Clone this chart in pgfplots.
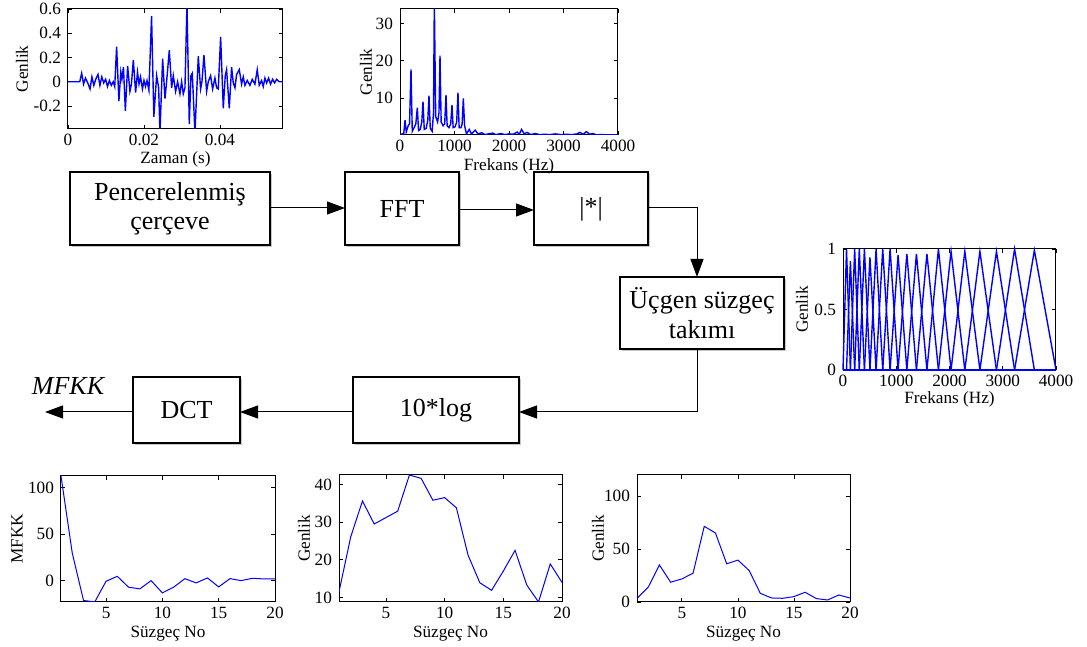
\documentclass[border=0pt]{standalone}
\usepackage{fontspec}
\setmainfont{Liberation Serif}
\usepackage{pgfplots}
\pgfplotsset{compat=1.18}
\usetikzlibrary{arrows.meta}
\definecolor{mblue}{RGB}{0,0,255}
\newcommand{\smallf}{\fontsize{8.6}{9}\selectfont}
\newcommand{\bxf}{\fontsize{13}{14.5}\selectfont}
\pgfplotsset{
  mat/.style={
    scale only axis, anchor=south west,
    axis line style={line width=0.5pt},
    tick align=inside, major tick length=2pt,
    tick style={black, line width=0.4pt},
    /pgf/number format/assume math mode=true,
    /pgf/number format/1000 sep={},
    scaled ticks=false,
    tick label style={font=\smallf},
    xticklabel style={yshift=1pt},
    label style={font=\smallf},
    xlabel style={anchor=center},
    ylabel style={anchor=center},
  },
  blu/.style={mblue, line width=0.7pt, mark=none},
  blut/.style={mblue, line width=0.5pt, mark=none},
}
\newcommand{\bx}[4]{\fill[gray!45] (#1+2,#2+2) rectangle (#3+2,#4+2); \draw[fill=white,line width=0.65pt] (#1,#2) rectangle (#3,#4);}
\begin{document}
\begin{tikzpicture}
\useasboundingbox (0,0) rectangle (543.5pt,323.5pt);
% ---------------- flow chart ----------------
\begin{scope}[x=0.5pt,y=-0.5pt,yshift=323.5pt]
\tikzset{arr/.style={-{Triangle[length=9pt,width=6.5pt]}, line width=0.5pt}}
\bx{70}{172}{270}{245}
\bx{345}{172}{459}{245}
\bx{534}{172}{648}{245}
\bx{620}{277}{784}{349}
\bx{353}{377}{519}{443}
\bx{133}{377}{240}{443}
\node[align=center,font=\bxf] at (170,209) {Pencerelenmiş\\çerçeve};
\node[font=\bxf] at (402,209) {FFT};
\node[font=\bxf] at (591,209) {|*|};
\node[align=center,font=\fontsize{13}{15}\selectfont] at (702,313) {Üçgen süzgeç\\takımı};
\node[font=\bxf] at (436,410) {10*log};
\node[font=\bxf] at (186.5,410) {DCT};
\node[font=\bxf\itshape] at (68,386) {MFKK};
\draw[arr] (270,208) -- (345,208);
\draw[arr] (459,210) -- (534,210);
\draw[arr] (648,208) -| (697,277);
\draw[arr] (697,349) |- (519,412);
\draw[arr] (353,412) -- (240,412);
\draw[arr] (133,412) -- (45,412);
\end{scope}
% ---------------- time signal ----------------
\begin{axis}[mat, at={(34pt,259pt)}, width=107.5pt, height=60pt,
  xmin=0, xmax=0.0566, ymin=-0.39, ymax=0.6,
  xtick={0,0.02,0.04}, ytick={-0.2,0,0.2,0.4,0.6},
  xlabel={Zaman (s)}, ylabel={Genlik},
  xlabel style={at={(axis description cs:0.5,-0.255)}},
  ylabel style={at={(axis description cs:-0.214,0.5)}},
  ticklabel style={/pgf/number format/fixed}]
\addplot[blu] coordinates {
(0,0) (0.0031,0) (0.0036,0.07) (0.0041,-0.02) (0.0046,0.03) (0.0052,-0.01) (0.0058,-0.06)
(0.0063,0.04) (0.0068,-0.03) (0.0073,0.02) (0.0079,0.06) (0.0084,-0.03) (0.0089,0.04)
(0.0094,-0.01) (0.0099,0.02) (0.0104,-0.04) (0.0109,0.01) (0.0114,-0.03) (0.0119,0.00)
(0.0123,-0.04) (0.0128,0.29) (0.0134,-0.16) (0.0139,0.08) (0.0142,0.02) (0.0146,0.12)
(0.0151,-0.24) (0.0157,0.13) (0.0163,-0.08) (0.0167,-0.02) (0.0172,0.18) (0.0178,-0.09)
(0.0183,0.08) (0.0187,-0.02) (0.0191,0.04) (0.0196,-0.06) (0.0200,0.01) (0.0204,-0.04)
(0.0208,0.01) (0.0213,-0.07) (0.0220,0.54) (0.0226,-0.29) (0.02333,0.05) (0.02386,-0.05)
(0.02421,-0.42) (0.02491,0.19) (0.02553,-0.14) (0.02596,0.0) (0.02667,0.26) (0.02728,-0.05)
(0.02772,0.05) (0.02833,-0.08) (0.02886,0.0) (0.02947,-0.1) (0.02991,0.0) (0.03035,-0.1)
(0.03079,-0.05) (0.03132,0.64) (0.03193,-0.35) (0.03237,0.05) (0.03272,0.07) (0.03342,-0.42)
(0.03430,0.21) (0.03491,-0.06) (0.03526,0.0) (0.03579,0.22) (0.03649,-0.08) (0.03693,0.0)
(0.03754,0.05) (0.03807,-0.06) (0.03868,0.03) (0.03912,-0.05) (0.03956,-0.06) (0.04018,0.37)
(0.04088,-0.22) (0.04140,0.05) (0.04175,0.1) (0.04246,-0.22) (0.04307,0.12) (0.04351,-0.01)
(0.04395,-0.05) (0.04439,0.06) (0.04509,0.1) (0.04570,-0.02) (0.04614,0.04) (0.04658,-0.03)
(0.04719,0.01) (0.04789,-0.03) (0.04851,0.02) (0.04921,-0.02) (0.04982,0.1) (0.05035,-0.03)
(0.05096,0.01) (0.05140,-0.04) (0.05184,0.03) (0.05228,-0.01) (0.05281,0.03) (0.05333,-0.02)
(0.05386,0.02) (0.05439,-0.01) (0.05491,0.02) (0.05561,0.0) (0.0566,0.0)
};
\end{axis}
% ---------------- FFT ----------------
\begin{axis}[mat, at={(200pt,256pt)}, width=109pt, height=63pt,
  xmin=0, xmax=4000, ymin=0, ymax=34,
  xtick={0,1000,2000,3000,4000}, ytick={10,20,30},
  xlabel={Frekans (Hz)}, ylabel={Genlik},
  xlabel style={at={(axis description cs:0.5,-0.25)}},
  ylabel style={at={(axis description cs:-0.156,0.5)}}]
\addplot[blu] coordinates {
(0,0.3) (40,0.2) (70,0.5) (92,4.0) (115,0.8) (150,2.5) (175,3.0) (202,17.7) (225,1.0)
(260,2.0) (290,3.0) (318,7.4) (340,1.2) (370,1.5) (400,3.5) (422,9.0) (445,1.5) (480,1.8)
(510,4.0) (532,10.6) (555,1.8) (590,1.0) (615,6.0) (630,36) (655,5.0) (690,3.5) (715,6.0)
(734,21.4) (755,3.5) (790,2.5) (820,3.0) (844,10.8) (865,2.5) (900,2.0) (930,3.0) (954,8.1)
(975,2.0) (1010,2.2) (1040,3.5) (1064,11.4) (1085,2.0) (1120,2.0) (1140,3.0) (1162,9.9)
(1185,2.5) (1220,0.3) (1270,1.5) (1310,0.3) (1380,1.3) (1430,0.3) (1500,0.6) (1560,0.1)
(1620,0.3) (1700,0.5) (1760,0.1) (1850,0.4) (1920,0.1) (2000,0.3) (2080,0.2) (2150,0.8)
(2190,0.2) (2230,1.5) (2280,0.3) (2330,0.7) (2400,0.1) (2480,0.4) (2560,0.1) (2650,0.2)
(2750,0.1) (2850,0.3) (2950,0.1) (3050,0.2) (3150,0.1) (3250,0.3) (3300,0.7) (3360,0.2)
(3420,0.9) (3480,0.2) (3540,0.4) (3600,0.05) (3700,0.1) (3800,0.05) (4000,0.05)
};
\end{axis}
% ---------------- filter bank ----------------
\begin{axis}[mat, at={(421.5pt,138.5pt)}, width=106.5pt, height=60.5pt,
  xmin=0, xmax=4000, ymin=0, ymax=1, clip=false,
  xtick={0,1000,2000,3000,4000}, ytick={0,0.5,1},
  xlabel={Frekans (Hz)}, ylabel={Genlik},
  xlabel style={at={(axis description cs:0.5,-0.245)}},
  ylabel style={at={(axis description cs:-0.192,0.5)}}]
\addplot[blu] coordinates {(0,0) (66,1) (139,0) (4000,0)};
\addplot[blu] coordinates {(0,0) (66,0) (139,0.9) (219,0) (4000,0)};
\addplot[blu] coordinates {(0,0) (139,0) (219,1) (306,0) (4000,0)};
\addplot[blu] coordinates {(0,0) (219,0) (306,1) (402,0) (4000,0)};
\addplot[blu] coordinates {(0,0) (306,0) (402,1) (506,0) (4000,0)};
\addplot[blu] coordinates {(0,0) (402,0) (506,0.93) (621,0) (4000,0)};
\addplot[blu] coordinates {(0,0) (506,0) (621,1) (746,0) (4000,0)};
\addplot[blu] coordinates {(0,0) (621,0) (746,1) (884,0) (4000,0)};
\addplot[blu] coordinates {(0,0) (746,0) (884,1) (1034,0) (4000,0)};
\addplot[blu] coordinates {(0,0) (884,0) (1034,0.95) (1199,0) (4000,0)};
\addplot[blu] coordinates {(0,0) (1034,0) (1199,0.96) (1379,0) (4000,0)};
\addplot[blu] coordinates {(0,0) (1199,0) (1379,0.96) (1576,0) (4000,0)};
\addplot[blu] coordinates {(0,0) (1379,0) (1576,0.96) (1792,0) (4000,0)};
\addplot[blu] coordinates {(0,0) (1576,0) (1792,1) (2029,0) (4000,0)};
\addplot[blu] coordinates {(0,0) (1792,0) (2029,0.98) (2288,0) (4000,0)};
\addplot[blu] coordinates {(0,0) (2029,0) (2288,0.98) (2571,0) (4000,0)};
\addplot[blu] coordinates {(0,0) (2288,0) (2571,0.98) (2882,0) (4000,0)};
\addplot[blu] coordinates {(0,0) (2571,0) (2882,0.98) (3222,0) (4000,0)};
\addplot[blu] coordinates {(0,0) (2882,0) (3222,1) (3594,0) (4000,0)};
\addplot[blu] coordinates {(0,0) (3222,0) (3594,0.99) (4000,0)};
\addplot[mblue, line width=1.2pt] coordinates {(0,0) (4000,0)};
\end{axis}
% ---------------- MFKK ----------------
\begin{axis}[mat, at={(30.5pt,22.5pt)}, width=107pt, height=63pt,
  xmin=1, xmax=20, ymin=-23, ymax=112.5,
  xtick={5,10,15,20}, ytick={0,50,100},
  xlabel={Süzgeç No}, ylabel={MFKK},
  xlabel style={at={(axis description cs:0.5,-0.25)}},
  ylabel style={at={(axis description cs:-0.206,0.5)}}]
\addplot[blut] coordinates {
(1,112.5) (2,29.6) (3,-21.4) (4,-22.9) (5,-0.7) (6,4.6) (7,-7.1) (8,-8.9) (9,0) (10,-13.2)
(11,-7.1) (12,2.1) (13,-2.5) (14,2.9) (15,-6.8) (16,2.1) (17,0) (18,2.5) (19,1.8) (20,1.8)
};
\end{axis}
% ---------------- log energies ----------------
\begin{axis}[mat, at={(169.5pt,22.5pt)}, width=111.5pt, height=63.5pt,
  xmin=1, xmax=20, ymin=8.8, ymax=42.5,
  xtick={5,10,15,20}, ytick={10,20,30,40},
  xlabel={Süzgeç No}, ylabel={Genlik},
  xlabel style={at={(axis description cs:0.5,-0.248)}},
  ylabel style={at={(axis description cs:-0.157,0.5)}}]
\addplot[blut] coordinates {
(1,11.5) (2,26.1) (3,35.6) (4,29.5) (5,31.2) (6,32.9) (7,42.5) (8,41.6) (9,35.8) (10,36.5)
(11,33.8) (12,21.2) (13,13.9) (14,11.9) (15,17.0) (16,22.5) (17,13.3) (18,8.8) (19,18.9) (20,14.0)
};
\end{axis}
% ---------------- filter energies ----------------
\begin{axis}[mat, at={(318.5pt,22.5pt)}, width=106.5pt, height=63.5pt,
  xmin=1, xmax=20, ymin=0, ymax=120,
  xtick={5,10,15,20}, ytick={0,50,100},
  xlabel={Süzgeç No}, ylabel={Genlik},
  xlabel style={at={(axis description cs:0.5,-0.248)}},
  ylabel style={at={(axis description cs:-0.183,0.5)}}]
\addplot[blut] coordinates {
(1,3.5) (2,14) (3,35) (4,18.7) (5,21.8) (6,27.2) (7,71.5) (8,65.2) (9,36.1) (10,39.6)
(11,29.8) (12,8.2) (13,3.8) (14,3.5) (15,5.1) (16,9.2) (17,3.2) (18,1.9) (19,6.6) (20,3.8)
};
\end{axis}
\end{tikzpicture}
\end{document}
